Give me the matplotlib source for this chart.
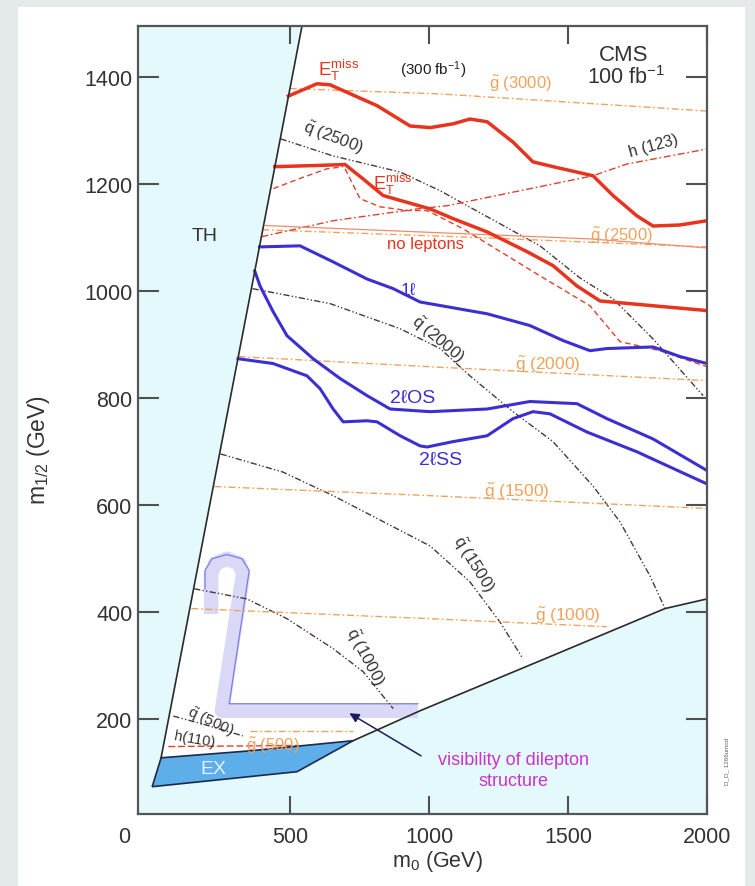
import matplotlib
matplotlib.use("Agg")
import matplotlib.pyplot as plt
from matplotlib.patches import Polygon, Rectangle
import numpy as np

plt.rcParams['font.family'] = ['Liberation Sans', 'DejaVu Sans']
plt.rcParams['mathtext.fontset'] = 'custom'
plt.rcParams['mathtext.rm'] = 'Liberation Sans'
plt.rcParams['mathtext.it'] = 'Liberation Sans:italic'
plt.rcParams['mathtext.bf'] = 'Liberation Sans:bold'

# ---------------- excluded regions (m0, m1/2 in GeV) ----------------
th_m0 = [36, 200, 543]
th_m12 = [127, 570, 1495]

low_m0 = [727, 968, 1338, 1849, 2000]
low_m12 = [159, 215, 295, 406, 424]

ex_m0 = [36, 4, 525, 727, 356]
ex_m12 = [127, 73, 101, 159, 140]

# ---------------- reach contours ----------------
met300_m0 = [494, 597, 644, 813, 932, 1004, 1086, 1147, 1209, 1302, 1374, 1446,
             1590, 1662, 1748, 1806, 1903, 2000]
met300_m12 = [1364, 1387, 1385, 1346, 1308, 1305, 1312, 1321, 1316, 1278, 1241,
              1232, 1215, 1178, 1140, 1121, 1123, 1131]

met100_m0 = [445, 583, 698, 763, 835, 1004, 1086, 1209, 1353, 1446, 1532, 1615,
             1806, 2000]
met100_m12 = [1232, 1234, 1236, 1209, 1178, 1153, 1135, 1110, 1073, 1047, 1009,
              981, 972, 963]

metA_m0 = [440, 536, 633, 691]
metA_m12 = [1191, 1210, 1228, 1232]

metB_m0 = [698, 752, 824, 921, 993, 1122, 1399, 1579, 1687, 1831, 2000]
metB_m12 = [1228, 1172, 1157, 1150, 1150, 1116, 1028, 972, 905, 888, 858]

nolep_m0 = [410, 1060, 1580, 2000]
nolep_m12 = [1122, 1108, 1097, 1080]

one_l_m0 = [390, 536, 655, 777, 871, 968, 1209, 1363, 1482, 1579, 1640, 1806,
            1903, 2000]
one_l_m12 = [1082, 1084, 1054, 1022, 1004, 979, 957, 935, 907, 888, 892, 895,
             877, 864]

os_m0 = [373, 392, 439, 489, 583, 680, 777, 860, 1004, 1209, 1363, 1532, 1640,
         1806, 2000]
os_m12 = [1037, 1009, 961, 916, 873, 836, 804, 779, 774, 779, 793, 789, 761,
          723, 664]

ss_m0 = [313, 439, 561, 608, 655, 691, 777, 813, 896, 968, 993, 1086, 1209,
         1302, 1374, 1435, 1568, 1748, 1903, 2000]
ss_m12 = [873, 864, 841, 817, 779, 755, 757, 755, 729, 710, 708, 718, 729, 761,
          774, 770, 736, 699, 662, 639]

# ---------------- squark mass contours ----------------
sq2500_m0 = [466, 655, 896, 1040, 1399, 1543, 1662, 1806, 1986]
sq2500_m12 = [1284, 1252, 1222, 1187, 1084, 1024, 985, 910, 804]

sq2000_m0 = [365, 644, 896, 1040, 1147, 1302, 1446, 1590, 1687, 1795, 1849]
sq2000_m12 = [1004, 976, 929, 892, 841, 774, 718, 635, 568, 467, 406]

sq1500_m0 = [250, 475, 655, 1004, 1147, 1255, 1338]
sq1500_m12 = [695, 661, 617, 523, 456, 381, 312]

sq1000_m0 = [155, 345, 489, 655, 763, 871]
sq1000_m12 = [443, 424, 387, 331, 288, 219]

sq500_m0 = [80, 200, 330]
sq500_m12 = [205, 188, 168]

# ---------------- gluino mass contours ----------------
gl3000_m0 = [499, 1040, 2000]
gl3000_m12 = [1378, 1368, 1336]

gl2500_m0 = [400, 1100, 2000]
gl2500_m12 = [1114, 1101, 1082]

gl2000_m0 = [315, 1004, 2000]
gl2000_m12 = [877, 858, 832]

gl1500_m0 = [228, 1004, 2000]
gl1500_m12 = [634, 617, 593]

gl1000_m0 = [145, 1004, 1640]
gl1000_m12 = [406, 387, 372]

gl500_m0 = [356, 727]
gl500_m12 = [178, 178]

# ---------------- Higgs mass contours ----------------
h123_m0 = [397, 655, 957, 1065, 1590, 1712, 2000]
h123_m12 = [1101, 1131, 1153, 1159, 1215, 1237, 1265]

h110_m0 = [62, 530]
h110_m12 = [148, 150]

# ---------------- dilepton-visibility band ----------------
band_m0 = [216, 216, 230, 273, 317, 331, 255, 960]
band_m12 = [396, 471, 490, 499, 490, 471, 215, 215]
edge_m0 = [194, 194, 219, 273, 327, 353, 281, 960]
edge_m12 = [443, 477, 499, 507, 499, 477, 228, 228]

# ---------------- colours ----------------
C_CYAN = '#e3f9fc'
C_EX = '#5eaeea'
C_RED = '#e8341f'
C_BLUE = '#3b2fd2'
C_ORANGE = '#f1a25a'
C_SQ = '#4e3636'
C_HRED = '#e0402e'
C_LAV = '#d9d9f7'
C_TXT = '#333333'

fig = plt.figure(figsize=(7.55, 8.87), dpi=100, facecolor='#e4e9ec')
fig.patches.append(Rectangle((0.024, 0.0), 0.963, 0.991,
                             transform=fig.transFigure, facecolor='white',
                             edgecolor='none', zorder=-10))
ax = fig.add_axes([0.1828, 0.0812, 0.7536, 0.8884])
ax.set_xlim(-47, 2000)
ax.set_ylim(22, 1495)
ax.set_facecolor(C_CYAN)

# allowed (white) region
allowed_x = list(th_m0) + [2000, 2000] + low_m0[::-1][1:] + [ex_m0[4], ex_m0[0]]
allowed_y = list(th_m12) + [1495, low_m12[-1]] + low_m12[::-1][1:] + [ex_m12[4], ex_m12[0]]
ax.add_patch(Polygon(np.column_stack([allowed_x, allowed_y]), closed=True,
                     facecolor='white', edgecolor='none', zorder=0))
ax.plot(th_m0, th_m12, color='#2a2a2a', lw=1.2, zorder=6)
ax.plot(low_m0, low_m12, color='#2a2a2a', lw=1.2, zorder=6)

# EX region
ax.add_patch(Polygon(np.column_stack([ex_m0, ex_m12]), closed=True,
                     facecolor=C_EX, edgecolor='#1c2a4a', lw=1.2, zorder=5))
ax.text(223, 107, 'EX', color='#e4f2ff', fontsize=14, ha='center',
        va='center', zorder=7)

# dilepton visibility band
ax.plot(band_m0, band_m12, color=C_LAV, lw=10.5, solid_capstyle='butt',
        solid_joinstyle='round', zorder=1)
ax.plot(edge_m0, edge_m12, color='#7c7ce6', lw=0.9, zorder=1.5)

dd = (0, (4.5, 1.6, 1.0, 1.6, 1.0, 1.6))
dg = (0, (5, 2, 1.2, 2))

# squark contours
for xs, ys in [(sq2500_m0, sq2500_m12), (sq2000_m0, sq2000_m12),
               (sq1500_m0, sq1500_m12), (sq1000_m0, sq1000_m12),
               (sq500_m0, sq500_m12)]:
    ax.plot(xs, ys, color=C_SQ, lw=1.0, ls=dd, zorder=2)

# gluino contours
for xs, ys in [(gl3000_m0, gl3000_m12), (gl2500_m0, gl2500_m12),
               (gl2000_m0, gl2000_m12), (gl1500_m0, gl1500_m12),
               (gl1000_m0, gl1000_m12), (gl500_m0, gl500_m12)]:
    ax.plot(xs, ys, color=C_ORANGE, lw=1.0, ls=dg, zorder=2)

# Higgs contours
ax.plot(h123_m0, h123_m12, color=C_HRED, lw=1.0, ls=dg, zorder=2)
ax.plot(h110_m0, h110_m12, color=C_HRED, lw=1.0, ls=(0, (5, 2)), zorder=2)

# MET reach lines
ax.plot(metA_m0, metA_m12, color=C_HRED, lw=1.0, ls=(0, (4, 2.5)), zorder=3)
ax.plot(metB_m0, metB_m12, color=C_HRED, lw=1.0, ls=(0, (4, 2.5)), zorder=3)
ax.plot(nolep_m0, nolep_m12, color='#f08a70', lw=0.9, zorder=3)
ax.plot(met300_m0, met300_m12, color=C_RED, lw=2.5, zorder=4,
        solid_joinstyle='round')
ax.plot(met100_m0, met100_m12, color=C_RED, lw=2.5, zorder=4,
        solid_joinstyle='round')

# lepton channels
for xs, ys in [(one_l_m0, one_l_m12), (os_m0, os_m12), (ss_m0, ss_m12)]:
    ax.plot(xs, ys, color=C_BLUE, lw=2.2, zorder=4, solid_joinstyle='round')

# ---------------- labels ----------------
SQ = r'$\tilde{\mathrm{q}}$'
GL = r'$\tilde{\mathrm{g}}$'
tk = dict(zorder=8, ha='center', va='center')
ax.text(601, 1404, r'$\mathrm{E}_\mathrm{T}^\mathrm{miss}$', color=C_RED,
        fontsize=13.5, ha='left', va='baseline', zorder=8)
ax.text(1014, 1415, r'(300 fb$^{-1}$)', color='#202020', fontsize=11, **tk)
ax.text(1700, 1441, 'CMS', color=C_TXT, fontsize=16, **tk)
ax.text(1710, 1400, r'100 fb$^{-1}$', color=C_TXT, fontsize=15.5, **tk)
ax.text(1330, 1388, GL + ' (3000)', color=C_ORANGE, fontsize=12, **tk)
ax.text(655, 1288, SQ + ' (2500)', color=C_TXT, fontsize=12,
        rotation=-21, **tk)
ax.text(799, 1191, r'$\mathrm{E}_\mathrm{T}^\mathrm{miss}$', color=C_RED,
        fontsize=13, ha='left', va='baseline', zorder=8)
ax.text(1806, 1273, 'h (123)', color=C_TXT, fontsize=11.5, rotation=15, **tk)
ax.text(986, 1088, 'no leptons', color=C_RED, fontsize=12, **tk)
ax.text(1694, 1105, GL + ' (2500)', color=C_ORANGE, fontsize=12, **tk)
ax.text(194, 1103, 'TH', color=C_TXT, fontsize=14, **tk)
ax.text(924, 1002, '1\u2113', color=C_BLUE, fontsize=12.5, **tk)
ax.text(1029, 910, SQ + ' (2000)', color=C_TXT, fontsize=12,
        rotation=-40, **tk)
ax.text(1428, 864, GL + ' (2000)', color=C_ORANGE, fontsize=12.5, **tk)
ax.text(942, 800, '2\u2113OS', color=C_BLUE, fontsize=14, **tk)
ax.text(1040, 684, '2\u2113SS', color=C_BLUE, fontsize=14, **tk)
ax.text(1317, 626, GL + ' (1500)', color=C_ORANGE, fontsize=12.5, **tk)
ax.text(1158, 490, SQ + ' (1500)', color=C_TXT, fontsize=12,
        rotation=-58, **tk)
ax.text(1500, 394, GL + ' (1000)', color=C_ORANGE, fontsize=12.5, **tk)
ax.text(770, 318, SQ + ' (1000)', color=C_TXT, fontsize=12,
        rotation=-62, **tk)
ax.text(212, 196, SQ + ' (500)', color=C_TXT, fontsize=11, rotation=-25, **tk)
ax.text(158, 163, 'h(110)', color=C_TXT, fontsize=10.5, rotation=-10, **tk)
ax.text(439, 151, GL + ' (500)', color=C_ORANGE, fontsize=12, **tk)

ax.annotate('', xy=(705, 213), xytext=(980, 128),
            arrowprops=dict(arrowstyle='-|>', color='#1c1c5a', lw=1.1,
                            mutation_scale=14), zorder=8)
ax.text(1305, 104, 'visibility of dilepton\nstructure', color='#cc33cc',
        fontsize=13, linespacing=1.35, **tk)

fig.text(0.963, 0.142, 'D_D_ 1266umod', rotation=90, fontsize=4.5,
         color='#606060', ha='center', va='center')

# ---------------- axes ----------------
ax.set_xticks([500, 1000, 1500, 2000])
ax.set_yticks([200, 400, 600, 800, 1000, 1200, 1400])
ax.tick_params(axis='both', direction='in', top=True, right=True,
               colors='#505050', labelcolor=C_TXT, labelsize=15.5,
               width=1.5)
ax.tick_params(axis='y', length=15, pad=4)
ax.tick_params(axis='x', length=13, pad=8.5)
ax.annotate('0', xy=(0, 0), xycoords='axes fraction', xytext=(-5.5, -8.5),
            textcoords='offset points', fontsize=15.5, color=C_TXT,
            ha='right', va='top')
for s in ax.spines.values():
    s.set_color('#555555')
    s.set_linewidth(1.6)
    s.set_zorder(9)
ax.set_xlabel(r'm$_0$ (GeV)', fontsize=15.5, color=C_TXT)
ax.set_ylabel(r'm$_{1/2}$ (GeV)', fontsize=16.5, color=C_TXT)
ax.xaxis.set_label_coords(0.5255, -0.043)
ax.yaxis.set_label_coords(-0.151, 0.463)

fig.savefig('out.png', dpi=100, facecolor=fig.get_facecolor())
